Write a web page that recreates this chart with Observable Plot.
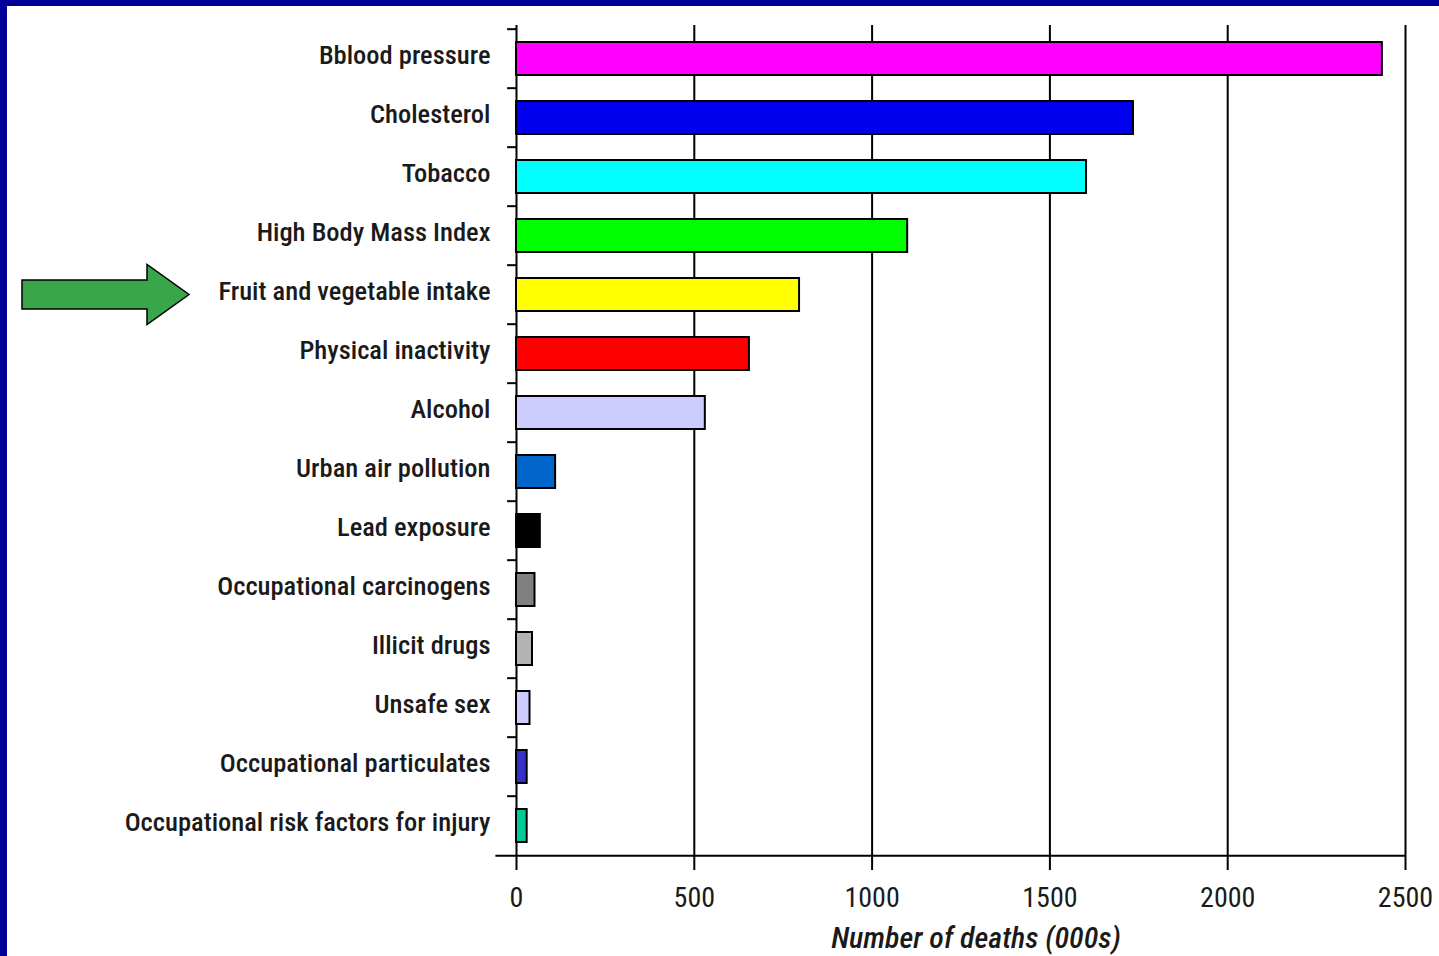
<!DOCTYPE html>
<html>
<head>
<meta charset="utf-8">
<script src="https://cdn.jsdelivr.net/npm/d3@7"></script>
<script src="https://cdn.jsdelivr.net/npm/@observablehq/plot@0.6"></script>
<style>
  html, body { margin: 0; padding: 0; background: #ffffff; }
  #frame {
    width: 1432px; height: 950px; background: #fff;
    border-top: 6px solid #000099; border-left: 7px solid #000099;
    overflow: hidden;
  }
  svg { display: block; }
  #frame svg, #frame svg text { font-family: Roboto, sans-serif; font-stretch: condensed; }
</style>
</head>
<body>
<div id="frame"></div>
<script>
const categories = [
  "Bblood pressure",
  "Cholesterol",
  "Tobacco",
  "High Body Mass Index",
  "Fruit and vegetable intake",
  "Physical inactivity",
  "Alcohol",
  "Urban air pollution",
  "Lead exposure",
  "Occupational carcinogens",
  "Illicit drugs",
  "Unsafe sex",
  "Occupational particulates",
  "Occupational risk factors for injury"
];
const deaths = [2435, 1735, 1603, 1100, 796, 655, 531, 110, 67, 52, 45, 38, 30, 30];
const barColors = [
  "#ff00ff", "#0000ee", "#00ffff", "#00ff00", "#ffff00", "#ff0000", "#ccccff",
  "#0066cc", "#000000", "#808080", "#b3b3b3", "#ccccff", "#3333cc", "#00cc99"
];
const xTicks = [0, 500, 1000, 1500, 2000, 2500];
const xLabel = "Number of deaths (000s)";
const highlighted = "Fruit and vegetable intake";

const data = categories.map((c, i) => ({cat: c, value: deaths[i], color: barColors[i]}));

const W = 1432, H = 950, mt = 19, mb = 96, ml = 509, mr = 34;
const step = (H - mt - mb) / categories.length;

const plot = Plot.plot({
  width: W, height: H,
  marginTop: mt, marginBottom: mb, marginLeft: ml, marginRight: mr,
  style: {fontFamily: "Roboto, sans-serif", fontStretch: "condensed", fontSize: "27px", color: "#1a1a1a", background: "white", overflow: "visible"},
  x: {domain: [0, 2500], label: null},
  y: {domain: categories, paddingInner: 0.44, paddingOuter: 0.22, label: null},
  marks: [
    Plot.ruleX(xTicks, {stroke: "black", strokeWidth: 2}),
    Plot.barX(data, {y: "cat", x: "value", fill: "color", stroke: "black", strokeWidth: 2}),
    Plot.ruleY(categories, {y: d => d, x1: -25, x2: 0, dy: -step / 2, stroke: "black", strokeWidth: 2}),
    Plot.ruleY([categories[categories.length - 1]], {y: d => d, x1: -58, x2: 2500, dy: step / 2, stroke: "black", strokeWidth: 2}),
    Plot.axisY({tickSize: 0, tickPadding: 26, dy: -3, fontSize: 26.5, fontWeight: 500, label: null}),
    Plot.axisX({ticks: xTicks, tickSize: 10, tickPadding: 17, stroke: "black", strokeWidth: 2, fontSize: 28, tickFormat: d => String(d), label: null}),
    Plot.text([xLabel], {frameAnchor: "bottom", dy: 87, dx: 15, text: d => d, fontStyle: "italic", fontWeight: 500, fontSize: 30, fill: "#1a1a1a"})
  ]
});

// Highlight arrow positioned from the y scale
const ys = plot.scale("y");
const cy = ys.apply(highlighted) + ys.bandwidth / 2;
const x0 = 15, xNeck = 140, xTip = 182, shaft = 14.5, head = 30;
d3.select(plot).append("polygon")
  .attr("points", [
    [x0, cy - shaft], [xNeck, cy - shaft], [xNeck, cy - head], [xTip, cy],
    [xNeck, cy + head], [xNeck, cy + shaft], [x0, cy + shaft]
  ].map(p => p.join(",")).join(" "))
  .attr("fill", "#3aa64a")
  .attr("stroke", "black")
  .attr("stroke-width", 1.5);

document.getElementById("frame").appendChild(plot);
</script>
</body>
</html>
